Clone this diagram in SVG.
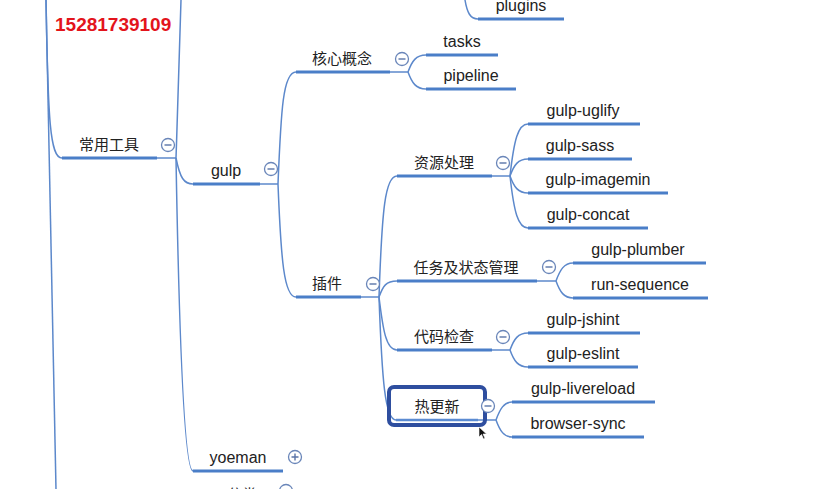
<svg xmlns="http://www.w3.org/2000/svg" width="822" height="489" viewBox="0 0 822 489">
<style>
.t{font-family:"Liberation Sans","Noto Sans CJK SC",sans-serif;font-size:16px;fill:#222;text-anchor:middle}
.c{font-family:"Noto Sans CJK SC","Liberation Sans",sans-serif;font-size:15px;fill:#222;text-anchor:middle}
.u{stroke:#4a7ec8;stroke-width:3;fill:none}
.l{stroke:#5c88cb;stroke-width:1.5;fill:none}
.b circle{fill:#fff;stroke:#6a86b9;stroke-width:1.3}
.b path{stroke:#5a74a8;stroke-width:1.4;fill:none}
.num{font-family:"Liberation Sans",sans-serif;font-size:19px;font-weight:bold;fill:#e3141c}
</style>
<defs>
<g id="minus" class="b"><circle r="6.5"/><path d="M-3.5,0H3.5"/></g>
<g id="plus" class="b"><circle r="6.5"/><path d="M-3.5,0H3.5M0,-3.5V3.5"/></g>
</defs>
<rect width="822" height="489" fill="#fff"/>
<text class="num" x="55" y="31">15281739109</text>
<g id="connectors">
<path class="l" d="M46,0 C48,120 50,158 62,158"/>
<path class="l" d="M46,0 C49,200 52,350 56,489"/>
<path class="l" d="M157,158 H176"/>
<path class="l" d="M176,158 C178,100 180,40 181,0"/>
<path class="l" d="M176,158 C180,178 184,184 193,184"/>
<path class="l" d="M176,158 C179,330 184,471 193,471"/>
<path class="l" d="M260,184 H278"/>
<path class="l" d="M278,184 C281,110 283,72 296,72"/>
<path class="l" d="M278,184 C281,260 284,297 296,297"/>
<path class="l" d="M390,72 H408"/>
<path class="l" d="M408,72 C412,61 416,55 426,55"/>
<path class="l" d="M408,72 C412,83 416,89 426,89"/>
<path class="l" d="M465,0 C467,12 470,19 478,19"/>
<path class="l" d="M361,297 H379"/>
<path class="l" d="M379,297 C382,210 385,176 397,176"/>
<path class="l" d="M379,297 C383,286 386,281 397,281"/>
<path class="l" d="M379,297 C383,330 386,350 397,350"/>
<path class="l" d="M379,297 C382,380 385,420 396,420"/>
<path class="l" d="M492,176 H510"/>
<path class="l" d="M510,176 C514,140 518,124 528,124"/>
<path class="l" d="M510,176 C514,165 518,159 528,159"/>
<path class="l" d="M510,176 C514,187 518,193 528,193"/>
<path class="l" d="M510,176 C514,212 518,228 528,228"/>
<path class="l" d="M537,281 H556"/>
<path class="l" d="M556,281 C560,270 564,263 573,263"/>
<path class="l" d="M556,281 C560,292 564,298 573,298"/>
<path class="l" d="M492,350 H510"/>
<path class="l" d="M510,350 C514,339 518,333 528,333"/>
<path class="l" d="M510,350 C514,361 518,367 528,367"/>
<path class="l" d="M478,420 H496"/>
<path class="l" d="M496,420 C500,409 504,402 512,402"/>
<path class="l" d="M496,420 C500,431 504,437 512,437"/>
</g>
<g id="n-changyong"><path class="u" d="M62,158H157"/><text class="c" x="109" y="150">常用工具</text><use href="#minus" x="168" y="145"/></g>
<g id="n-gulp"><path class="u" d="M193,184H260"/><text class="t" x="226" y="176">gulp</text><use href="#minus" x="271" y="169"/></g>
<g id="n-yoeman"><path class="u" d="M193,471H283"/><text class="t" x="238" y="463">yoeman</text><use href="#plus" x="295" y="457"/></g>
<g id="n-fenlei"><text class="c" x="242" y="500">分类</text><use href="#minus" x="286" y="491"/></g>
<g id="n-hexin"><path class="u" d="M296,72H390"/><text class="c" x="342" y="64">核心概念</text><use href="#minus" x="402" y="59"/></g>
<g id="n-tasks"><path class="u" d="M426,55H498"/><text class="t" x="462" y="47">tasks</text></g>
<g id="n-pipeline"><path class="u" d="M426,89H516"/><text class="t" x="471" y="81">pipeline</text></g>
<g id="n-plugins"><path class="u" d="M478,19H564"/><text class="t" x="521" y="11">plugins</text></g>
<g id="n-chajian"><path class="u" d="M296,297H361"/><text class="c" x="327" y="289">插件</text><use href="#minus" x="373" y="284"/></g>
<g id="n-ziyuan"><path class="u" d="M397,176H492"/><text class="c" x="444" y="168">资源处理</text><use href="#minus" x="503" y="163"/></g>
<g id="n-uglify"><path class="u" d="M528,124H640"/><text class="t" x="583" y="116">gulp-uglify</text></g>
<g id="n-sass"><path class="u" d="M528,159H632"/><text class="t" x="580" y="151">gulp-sass</text></g>
<g id="n-imagemin"><path class="u" d="M528,193H668"/><text class="t" x="598" y="185">gulp-imagemin</text></g>
<g id="n-concat"><path class="u" d="M528,228H648"/><text class="t" x="588" y="220">gulp-concat</text></g>
<g id="n-renwu"><path class="u" d="M397,281H537"/><text class="c" x="466" y="273">任务及状态管理</text><use href="#minus" x="549" y="267"/></g>
<g id="n-plumber"><path class="u" d="M573,263H706"/><text class="t" x="638" y="255">gulp-plumber</text></g>
<g id="n-runseq"><path class="u" d="M573,298H708"/><text class="t" x="640" y="290">run-sequence</text></g>
<g id="n-daima"><path class="u" d="M397,350H492"/><text class="c" x="444" y="342">代码检查</text><use href="#minus" x="503" y="337"/></g>
<g id="n-jshint"><path class="u" d="M528,333H640"/><text class="t" x="583" y="325">gulp-jshint</text></g>
<g id="n-eslint"><path class="u" d="M528,367H638"/><text class="t" x="583" y="359">gulp-eslint</text></g>
<g id="n-re"><path d="M396,420H478" stroke="#5b8bd2" stroke-width="2.5" fill="none"/><text class="c" x="437" y="412">热更新</text><rect x="389" y="387" width="96" height="38" rx="5" fill="none" stroke="#2e4e9f" stroke-width="4"/><use href="#minus" x="488" y="406"/></g>
<g id="n-livereload"><path class="u" d="M512,402H655"/><text class="t" x="583" y="394">gulp-livereload</text></g>
<g id="n-browsersync"><path class="u" d="M512,437H644"/><text class="t" x="578" y="429">browser-sync</text></g>
<polygon points="479,427 479,437 481.5,434.5 483.5,439 485,438.3 483,434 486.5,434" fill="#111" stroke="#fff" stroke-width="0.6"/>
</svg>
